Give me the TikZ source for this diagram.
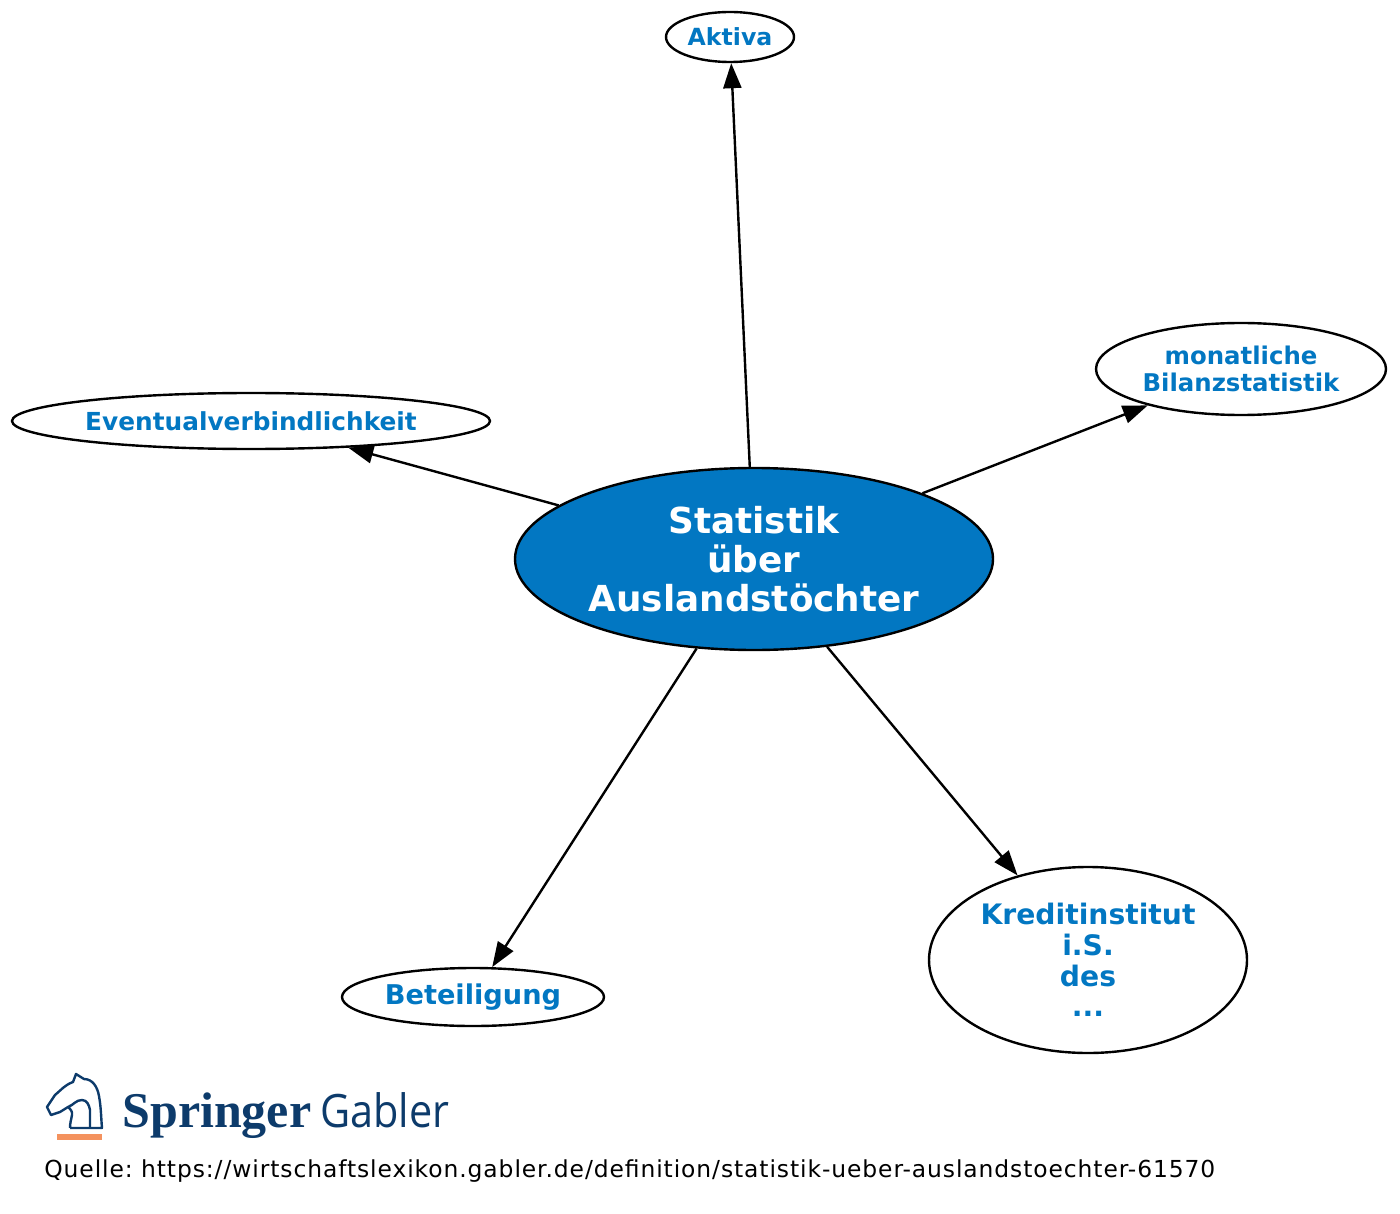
\documentclass[tikz,border=0pt]{standalone}
\usepackage{fontspec}
\setmainfont{DejaVu Sans}
\newfontfamily\logoserif{Liberation Serif}
\newfontfamily\logosans{Open Sans}
\newfontfamily\sourcefont[LetterSpace=3.9]{DejaVu Sans}
\usetikzlibrary{shapes.geometric,arrows.meta}
\definecolor{gvblue}{HTML}{0277C2}
\definecolor{logoblue}{HTML}{0D3B6B}
\definecolor{logoorange}{HTML}{F4925E}
\newcommand\gvfont[2]{\bfseries\fontsize{#1}{#2}\selectfont}
\frenchspacing
\begin{document}
\begin{tikzpicture}[x=0.5pt,y=-0.5pt,
  topic/.style={ellipse,draw,line width=1.2pt,inner sep=0pt,align=center,text=gvblue},
  link/.style={line width=1.2pt,-{Triangle[length=12.5pt,width=9pt]}}]
  \useasboundingbox (0,0) rectangle (1400,1213);
  \node[topic,fill=gvblue,text=white,minimum width=239pt,minimum height=91pt,font=\gvfont{17.9}{19.5}] (main) at (754,559) {Statistik\\über\\Auslandstöchter};
  \node[topic,minimum width=64pt,minimum height=25pt,font=\gvfont{11.8}{13.5}] (aktiva) at (730,37) {Aktiva};
  \node[topic,minimum width=145pt,minimum height=46pt,font=\gvfont{12.2}{13.5}] (bilanz) at (1241,369) {monatliche\\Bilanzstatistik};
  \node[topic,minimum width=239pt,minimum height=28pt,font=\gvfont{12.4}{14}] (event) at (251,421) {Eventualverbindlichkeit};
  \node[topic,minimum width=131pt,minimum height=29pt,font=\gvfont{13.6}{15}] (beteil) at (473,997) {Beteiligung};
  \node[topic,minimum width=159pt,minimum height=93pt,font=\gvfont{14.1}{15.4}] (kredit) at (1088,960) {Kreditinstitut\\i.S.\\des\\...};
  \foreach \t in {aktiva,bilanz,event,beteil,kredit}
    \draw[link] (main) -- (\t);
  % logo
  \draw[logoblue,line width=1.2pt,line join=round] (70,1128) -- (102,1128) to[out=95,in=-80] (99,1096) to[out=100,in=0] (84,1079)
    -- (76,1074) -- (73,1082) to[out=200,in=40] (55,1095) -- (47,1107) -- (51,1115) -- (60,1112) -- (68,1107)
    to[out=-40,in=80] (72,1115) to[out=-100,in=90] (70,1128);
  \draw[logoblue,line width=1.2pt] (68,1107) to[out=20,in=180] (82,1100) to[out=0,in=100] (90,1110) -- (90,1128);
  \fill[logoorange] (57,1134) rectangle (102,1140);
  \node[anchor=base west,inner sep=0pt,text=logoblue,font=\logoserif\bfseries\fontsize{25}{30}\selectfont] (springer) at (122,1127) {Springer};
  \node[anchor=base west,inner sep=0pt,text=logoblue,font=\logosans\fontsize{23}{28}\selectfont,xscale=0.9] (gabler) at (320,1127) {Gabler};
  \node[anchor=base west,inner sep=0pt,font=\sourcefont\fontsize{11.7}{13}\selectfont] (quelle) at (44,1177) {Quelle: https://wirtschaftslexikon.gabler.de/definition/statistik-ueber-auslandstoechter-61570};
\end{tikzpicture}
\end{document}
